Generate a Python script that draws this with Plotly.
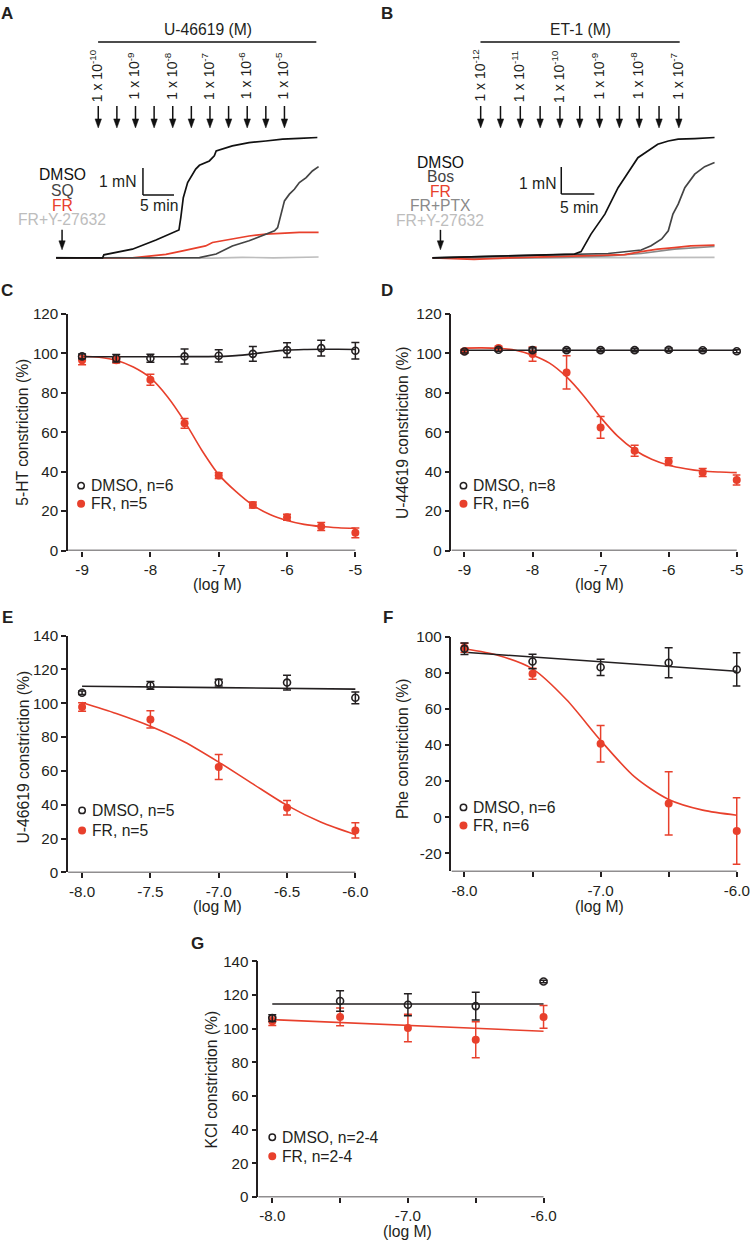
import plotly.graph_objects as go

W, H = 750, 1240
FONT = "Arial, Liberation Sans, sans-serif"
INK = "#231f20"
RED = "#e8402c"
DARK = "#444444"
MID = "#8a8a8a"
LIGHT = "#bdbdbd"

# ---------------- Panel A : U-46619 traces (time in min, force in mN) ----------------
a_dose_t = [6.8, 9.8, 12.8, 15.8, 18.8, 21.8, 24.8, 27.8, 30.8, 33.8, 36.8]
a_dose_exp = ["-10", "-9", "-8", "-7", "-6", "-5"]
a_dmso_t = [0, 7.5, 7.7, 12.3, 16.1, 18.8, 19.8, 20.1, 20.5, 21.2, 22.5, 23.1, 24.7, 25.5, 25.8, 28.4, 31.1, 33.8, 36.5, 39.2, 42.1]
a_dmso_f = [0, 0, 0.11, 0.32, 0.66, 0.94, 1.03, 1.49, 2.23, 2.79, 3.29, 3.43, 3.59, 3.78, 3.96, 4.15, 4.27, 4.33, 4.40, 4.43, 4.46]
a_sq_t = [0, 23.1, 25.8, 28.4, 31.1, 33.8, 35.2, 35.7, 36.2, 36.8, 37.6, 38.4, 39.2, 40.3, 41.3, 42.3]
a_sq_f = [0, 0.01, 0.14, 0.44, 0.63, 0.88, 1.0, 1.12, 1.62, 2.11, 2.36, 2.54, 2.79, 2.97, 3.22, 3.38]
a_fr_t = [0, 12.3, 15.0, 17.7, 20.4, 23.1, 24.1, 25.2, 28.4, 31.1, 33.8, 36.5, 39.2, 42.3]
a_fr_f = [0, 0, 0.06, 0.13, 0.26, 0.38, 0.44, 0.57, 0.69, 0.81, 0.88, 0.91, 0.94, 0.94]
a_fry_t = [0, 5, 10, 15, 20, 25, 30, 35, 42.3]
a_fry_f = [0.02, -0.01, 0.01, -0.02, 0.0, -0.01, 0.02, 0.0, 0.03]

# ---------------- Panel B : ET-1 traces ----------------
b_dose_t = [7.3, 10.3, 13.3, 16.3, 19.3, 22.3, 25.3, 28.3, 31.3, 34.3, 37.3]
b_dose_exp = ["-12", "-11", "-10", "-9", "-8", "-7"]
b_dmso_t = [0, 21.5, 22.5, 24.0, 26.1, 27.1, 28.1, 29.1, 30.1, 31.1, 32.6, 34.1, 35.7, 37.2, 39.7, 42.7]
b_dmso_f = [0, 0.14, 0.23, 0.88, 1.62, 2.11, 2.60, 2.97, 3.34, 3.71, 3.96, 4.21, 4.33, 4.40, 4.42, 4.46]
b_bos_t = [0, 26.6, 31.6, 33.1, 34.7, 35.7, 36.4, 37.2, 38.2, 39.7, 41.2, 42.7]
b_bos_f = [0, 0.16, 0.29, 0.45, 0.70, 1.0, 1.62, 1.99, 2.6, 3.1, 3.38, 3.53]
b_fr_t = [0, 6.3, 11.4, 16.5, 21.5, 26.6, 29.1, 31.6, 34.1, 36.6, 39.1, 42.7]
b_fr_f = [0, -0.06, 0, 0.03, 0.06, 0.10, 0.12, 0.23, 0.32, 0.38, 0.44, 0.47]
b_ptx_t = [0, 10, 20, 26.6, 31.6, 36.6, 42.7]
b_ptx_f = [0, -0.02, 0.02, 0.07, 0.16, 0.32, 0.42]
b_fry_t = [0, 10, 20, 30, 42.7]
b_fry_f = [0, 0.0, -0.01, 0.01, 0.02]

# ---------------- Panel C : 5-HT ----------------
c_x = [-9, -8.5, -8, -7.5, -7, -6.5, -6, -5.5, -5]
c_dmso = [98.4, 97.5, 97.5, 98.4, 98.7, 99.7, 101.6, 102.6, 101.3]
c_dmso_err = [1.2, 1.9, 2.0, 3.8, 3.1, 3.7, 3.7, 4.0, 4.2]
c_fr = [96.5, 96.5, 86.6, 64.5, 38.0, 23.1, 16.9, 12.2, 9.0]
c_fr_err = [2.3, 1.5, 2.8, 2.5, 1.5, 1.5, 1.5, 2.0, 2.5]
c_fit_x = [-9, -8.75, -8.5, -8.25, -8, -7.75, -7.5, -7.25, -7, -6.75, -6.5, -6.25, -6, -5.75, -5.5, -5.25, -5]
c_dmso_fit = [98.2, 98.2, 98.2, 98.2, 98.2, 98.2, 98.3, 98.3, 98.4, 98.8, 99.7, 100.8, 101.6, 101.9, 102.0, 102.0, 101.9]
c_fr_fit = [98.5, 98.0, 96.5, 93.0, 87.5, 78.0, 65.5, 51.0, 38.5, 30.0, 23.0, 18.3, 15.3, 13.3, 12.2, 11.6, 11.3]

# ---------------- Panel D : U-44619 ----------------
d_x = [-9, -8.5, -8, -7.5, -7, -6.5, -6, -5.5, -5]
d_dmso = [100.9, 101.8, 101.6, 101.6, 101.6, 101.6, 101.8, 101.5, 101.0]
d_dmso_err = [0.8, 0.8, 1.0, 0.8, 0.8, 0.8, 0.8, 0.8, 0.8]
d_fr = [101.0, 102.6, 99.6, 90.3, 62.4, 50.6, 45.1, 39.6, 35.8]
d_fr_err = [1.0, 1.0, 3.6, 8.4, 5.5, 2.8, 2.0, 2.0, 2.5]
d_fit_x = [-9, -8.75, -8.5, -8.25, -8, -7.75, -7.5, -7.25, -7, -6.75, -6.5, -6.25, -6, -5.75, -5.5, -5.25, -5]
d_fr_fit = [102.6, 102.7, 102.5, 101.5, 99.0, 95.0, 88.0, 78.5, 67.5, 58.0, 51.0, 46.3, 43.3, 41.5, 40.3, 39.8, 39.5]
d_dmso_fit_x = [-9, -5]
d_dmso_fit = [101.5, 101.5]

# ---------------- Panel E : U-46619 ----------------
e_x = [-8, -7.5, -7, -6.5, -6]
e_dmso = [106.2, 110.5, 112.2, 112.2, 103.2]
e_dmso_err = [1.0, 2.3, 2.0, 4.4, 3.5]
e_fr = [97.8, 90.4, 62.3, 38.2, 24.8]
e_fr_err = [2.5, 5.1, 7.4, 4.3, 4.5]
e_fit_x = [-8, -7.75, -7.5, -7.25, -7, -6.75, -6.5, -6.25, -6]
e_fr_fit = [100.4, 93.9, 86.4, 77.1, 65.2, 52.3, 39.6, 29.6, 22.3]
e_dmso_fit_x = [-8, -7, -6]
e_dmso_fit = [110.0, 109.2, 108.3]

# ---------------- Panel F : Phe ----------------
f_x = [-8, -7.5, -7, -6.5, -6]
f_dmso = [93.2, 86.2, 83.0, 85.5, 81.8]
f_dmso_err = [3.2, 4.0, 4.5, 8.3, 9.2]
f_fr = [93.8, 79.4, 40.7, 7.6, -7.7]
f_fr_err = [2.5, 3.0, 10.1, 17.5, 18.4]
f_fit_x = [-8, -7.75, -7.5, -7.25, -7, -6.75, -6.5, -6.25, -6]
f_fr_fit = [93.2, 89.5, 82.1, 65.0, 42.5, 22.3, 9.8, 3.9, 1.1]
f_dmso_fit_x = [-8, -6]
f_dmso_fit = [91.3, 80.8]

# ---------------- Panel G : KCl ----------------
g_x = [-8, -7.5, -7, -6.5, -6]
g_dmso = [106.3, 116.4, 114.2, 113.4, 128.0]
g_dmso_err = [2.0, 6.1, 6.5, 8.2, 0.8]
g_fr = [104.4, 107.0, 100.4, 93.4, 107.0]
g_fr_err = [2.5, 5.3, 8.2, 10.7, 6.7]
g_fit_x = [-8, -6]
g_dmso_fit = [114.7, 114.7]
g_fr_fit = [105.4, 98.5]

# scale bars (min, mN)
a_bar = dict(t=14.0, f=2.33, dt=5, df=1)
b_bar = dict(t=19.5, f=2.37, dt=5, df=1)

# ---- page placement (target pixel -> figure pixel) ----
S, OX, OY = 0.987, 1.0, 8.0


def dX(x):
    return (x - OX) / S


def dY(y):
    return (y - OY) / S


def PX(x):
    return min(1.0, max(0.0, dX(x) / W))


def PY(y):
    return min(1.0, max(0.0, 1 - dY(y) / H))


TXT = 15.7
TICK = 15.2
fig = go.Figure()
annotations = []
shapes = []


def arrow_shapes(x, y_top, y_tip, xref, half):
    head = 9
    shapes.append(dict(type="line", xref=xref, yref="paper", x0=x, x1=x, y0=PY(y_top), y1=PY(y_tip - head + 1),
                       line=dict(color="#111111", width=1.5)))
    shapes.append(dict(type="path", xref=xref, yref="paper",
                       path="M %f,%f L %f,%f L %f,%f Z" % (x - half, PY(y_tip - head), x + half, PY(y_tip - head),
                                                           x, PY(y_tip)),
                       fillcolor="#111111", line=dict(color="#111111", width=0.5)))


# ---------- dose-response panels ----------
# xpx: (axis-left px, px of first tick, px of last tick); ypx: (px of y-range bottom, px of y-range top)
panels = [
    dict(ax="", xpx=(69, 83, 356), xt=(-9, -5), ypx=(550, 313), yr=[0, 120],
         tv=[-9, -8, -7, -6, -5], tt=["-9", "-8", "-7", "-6", "-5"], ytv=[0, 20, 40, 60, 80, 100, 120],
         data=(c_x, c_dmso, c_dmso_err, c_fr, c_fr_err),
         fits=[(c_fit_x, c_fr_fit, RED), (c_fit_x, c_dmso_fit, INK)],
         ytitle="5-HT constriction (%)", ytc=(24, 432), xtc=(218, 584),
         leg=(82, 485, 503, "DMSO, n=6", "FR, n=5"), letter=("C", 8, 290)),
    dict(ax="2", xpx=(452, 465, 737), xt=(-9, -5), ypx=(550, 313), yr=[0, 120],
         tv=[-9, -8, -7, -6, -5], tt=["-9", "-8", "-7", "-6", "-5"], ytv=[0, 20, 40, 60, 80, 100, 120],
         data=(d_x, d_dmso, d_dmso_err, d_fr, d_fr_err),
         fits=[(d_fit_x, d_fr_fit, RED), (d_dmso_fit_x, d_dmso_fit, INK)],
         ytitle="U-44619 constriction (%)", ytc=(403, 432), xtc=(600, 584),
         leg=(464, 485, 503, "DMSO, n=8", "FR, n=6"), letter=("D", 388, 290)),
    dict(ax="3", xpx=(69, 83, 356), xt=(-8, -6), ypx=(872, 635), yr=[0, 140],
         tv=[-8, -7.5, -7, -6.5, -6], tt=["-8.0", "-7.5", "-7.0", "-6.5", "-6.0"],
         ytv=[0, 20, 40, 60, 80, 100, 120, 140],
         data=(e_x, e_dmso, e_dmso_err, e_fr, e_fr_err),
         fits=[(e_fit_x, e_fr_fit, RED), (e_dmso_fit_x, e_dmso_fit, INK)],
         ytitle="U-46619 constriction (%)", ytc=(24, 757), xtc=(218, 906),
         leg=(83, 810, 830, "DMSO, n=5", "FR, n=5"), letter=("E", 8, 617)),
    dict(ax="4", xpx=(452, 465, 737), xt=(-8, -6), ypx=(871, 636), yr=[-30, 100],
         tv=[-8, -7.5, -7, -6.5, -6], tt=["-8.0", "", "-7.0", "", "-6.0"],
         ytv=[-20, 0, 20, 40, 60, 80, 100],
         data=(f_x, f_dmso, f_dmso_err, f_fr, f_fr_err),
         fits=[(f_fit_x, f_fr_fit, RED), (f_dmso_fit_x, f_dmso_fit, INK)],
         ytitle="Phe constriction (%)", ytc=(403, 748), xtc=(600, 906),
         leg=(464, 807, 825, "DMSO, n=6", "FR, n=6"), letter=("F", 389, 617)),
    dict(ax="5", xpx=(259, 273, 544), xt=(-8, -6), ypx=(1197, 961), yr=[0, 140],
         tv=[-8, -7.5, -7, -6.5, -6], tt=["-8.0", "", "-7.0", "", "-6.0"],
         ytv=[0, 20, 40, 60, 80, 100, 120, 140],
         data=(g_x, g_dmso, g_dmso_err, g_fr, g_fr_err),
         fits=[(g_fit_x, g_fr_fit, RED), (g_fit_x, g_dmso_fit, INK)],
         ytitle="KCl constriction (%)", ytc=(212, 1079), xtc=(408, 1231),
         leg=(273, 1137, 1156, "DMSO, n=2-4", "FR, n=2-4"), letter=("G", 198, 943)),
]

layout_axes = {}
for p in panels:
    a = p["ax"]
    xref = "x" + a
    yref = "y" + a
    left, p0, p1 = (dX(v) for v in p["xpx"])
    right = min(W - 0.5, p1 + 5)
    k = (p1 - p0) / (p["xt"][1] - p["xt"][0])
    xr = [p["xt"][0] - (p0 - left) / k, p["xt"][1] + (right - p1) / k]
    x, dm, dme, fr, fre = p["data"]
    for fx, fy, col in p["fits"]:
        fig.add_trace(go.Scatter(x=fx, y=fy, mode="lines", line=dict(color=col, width=1.6, shape="spline", smoothing=0.8),
                                 xaxis=xref, yaxis=yref, showlegend=False, cliponaxis=False, hoverinfo="skip"))
    fig.add_trace(go.Scatter(x=x, y=fr, mode="markers", marker=dict(color=RED, size=8, symbol="circle"),
                             error_y=dict(type="data", array=fre, color=RED, thickness=1.5, width=4),
                             xaxis=xref, yaxis=yref, showlegend=False, cliponaxis=False))
    fig.add_trace(go.Scatter(x=x, y=dm, mode="markers",
                             marker=dict(color=INK, size=7, symbol="circle-open", line=dict(width=1.6, color=INK)),
                             error_y=dict(type="data", array=dme, color=INK, thickness=1.5, width=4),
                             xaxis=xref, yaxis=yref, showlegend=False, cliponaxis=False))
    axcommon = dict(linecolor=INK, linewidth=1.5, ticks="outside", ticklen=5, tickwidth=1.5,
                    tickcolor=INK, showgrid=False, zeroline=False,
                    tickfont=dict(family=FONT, size=TICK, color=INK))
    layout_axes["xaxis" + a] = dict(axcommon, showline=False, domain=[left / W, right / W],
                                    range=xr, anchor=yref, tickmode="array", tickvals=p["tv"],
                                    ticktext=p["tt"], ticklabeloverflow="allow")
    layout_axes["yaxis" + a] = dict(axcommon, showline=True, domain=[PY(p["ypx"][0]), PY(p["ypx"][1])],
                                    range=p["yr"], anchor=xref, tickmode="array", tickvals=p["ytv"],
                                    ticktext=[str(v) for v in p["ytv"]])
    shapes.append(dict(type="line", xref=xref, yref=yref, x0=xr[0], x1=p["xt"][1], y0=p["yr"][0],
                       y1=p["yr"][0], line=dict(color=INK, width=1.5)))
    annotations.append(dict(text=p["ytitle"], x=PX(p["ytc"][0]), y=PY(p["ytc"][1]), xref="paper", yref="paper",
                            textangle=-90, showarrow=False, xanchor="center", yanchor="middle",
                            font=dict(family=FONT, size=TXT, color=INK)))
    annotations.append(dict(text="(log M)", x=PX(p["xtc"][0]), y=PY(p["xtc"][1]), xref="paper", yref="paper",
                            showarrow=False, xanchor="center", yanchor="middle",
                            font=dict(family=FONT, size=TXT, color=INK)))
    lx, ly1, ly2, t1, t2 = p["leg"]
    shapes.append(dict(type="circle", xref="paper", yref="paper", x0=PX(lx - 3.2), x1=PX(lx + 3.2),
                       y0=PY(ly1 + 3.2), y1=PY(ly1 - 3.2), line=dict(color=INK, width=1.5)))
    shapes.append(dict(type="circle", xref="paper", yref="paper", x0=PX(lx - 4), x1=PX(lx + 4),
                       y0=PY(ly2 + 4), y1=PY(ly2 - 4), line=dict(color=RED, width=0), fillcolor=RED))
    for t, yy in ((t1, ly1), (t2, ly2)):
        annotations.append(dict(text=t, x=PX(lx + 8), y=PY(yy), xref="paper", yref="paper", showarrow=False,
                                xanchor="left", yanchor="middle", font=dict(family=FONT, size=TXT, color=INK)))
    L, lxp, lyp = p["letter"]
    annotations.append(dict(text="<b>%s</b>" % L, x=PX(lxp), y=PY(lyp), xref="paper", yref="paper",
                            showarrow=False, xanchor="center", yanchor="middle",
                            font=dict(family=FONT, size=17, color=INK)))

# ---------- trace panels A & B ----------
# t0px: pixel of t=0, ppm: pixels per minute; baseline 257 px, 27 px per mN
trace_panels = [
    dict(ax="6", xpx=(40, 330), t0px=57, ppm=6.2, doses=a_dose_t, exps=a_dose_exp,
         traces=[(a_fry_t, a_fry_f, LIGHT), (a_fr_t, a_fr_f, RED), (a_sq_t, a_sq_f, DARK), (a_dmso_t, a_dmso_f, "#111111")],
         bar=a_bar, title="U-46619 (M)", title_x=209, line=(99, 317),
         legend=[("DMSO", "#111111", 174), ("SQ", DARK, 190), ("FR", RED, 205), ("FR+Y-27632", LIGHT, 219)],
         legx=63, mn=(118, 181), mins=(160, 205), letter=("A", 8, 13)),
    dict(ax="7", xpx=(420, 720), t0px=433, ppm=6.6, doses=b_dose_t, exps=b_dose_exp,
         traces=[(b_fry_t, b_fry_f, LIGHT), (b_ptx_t, b_ptx_f, MID), (b_fr_t, b_fr_f, RED), (b_bos_t, b_bos_f, DARK),
                 (b_dmso_t, b_dmso_f, "#111111")],
         bar=b_bar, title="ET-1 (M)", title_x=581, line=(481, 680),
         legend=[("DMSO", "#111111", 162), ("Bos", DARK, 176), ("FR", RED, 191), ("FR+PTX", MID, 205),
                 ("FR+Y-27632", LIGHT, 220)],
         legx=441, mn=(538, 183), mins=(579, 207), letter=("B", 388, 13)),
]

for p in trace_panels:
    a = p["ax"]
    xref = "x" + a
    yref = "y" + a
    for tt, ff, col in p["traces"]:
        fig.add_trace(go.Scatter(x=tt, y=ff, mode="lines", line=dict(color=col, width=1.7),
                                 xaxis=xref, yaxis=yref, showlegend=False, hoverinfo="skip"))
    xr = [(p["xpx"][0] - p["t0px"]) / p["ppm"], (p["xpx"][1] - p["t0px"]) / p["ppm"]]
    yr = [(257 - 265) / 27, (257 - 20) / 27]
    layout_axes["xaxis" + a] = dict(domain=[PX(p["xpx"][0]), PX(p["xpx"][1])], range=xr, visible=False,
                                    anchor=yref)
    layout_axes["yaxis" + a] = dict(domain=[PY(265), PY(20)], range=yr, visible=False, anchor=xref)
    for i, t in enumerate(p["doses"]):
        arrow_shapes(t, 105, 127, xref, 3.2 / p["ppm"])
        if i % 2 == 0:
            annotations.append(dict(text="1 x 10<sup>%s</sup>" % p["exps"][i // 2], x=t, y=PY(75), xref=xref,
                                    yref="paper", textangle=-90, showarrow=False, xanchor="center",
                                    yanchor="middle", xshift=-2, font=dict(family=FONT, size=14, color=INK)))
    shapes.append(dict(type="line", xref="paper", yref="paper", x0=PX(p["line"][0]), x1=PX(p["line"][1]),
                       y0=PY(41), y1=PY(41), line=dict(color="#111111", width=1.5)))
    annotations.append(dict(text=p["title"], x=PX(p["title_x"]), y=PY(29), xref="paper", yref="paper",
                            showarrow=False, xanchor="center", yanchor="middle",
                            font=dict(family=FONT, size=TXT, color=INK)))
    bar = p["bar"]
    shapes.append(dict(type="line", xref=xref, yref=yref, x0=bar["t"], x1=bar["t"], y0=bar["f"],
                       y1=bar["f"] + bar["df"], line=dict(color="#111111", width=1.5)))
    shapes.append(dict(type="line", xref=xref, yref=yref, x0=bar["t"], x1=bar["t"] + bar["dt"], y0=bar["f"],
                       y1=bar["f"], line=dict(color="#111111", width=1.5)))
    annotations.append(dict(text="1 mN", x=PX(p["mn"][0]), y=PY(p["mn"][1]), xref="paper", yref="paper",
                            showarrow=False, xanchor="center", yanchor="middle",
                            font=dict(family=FONT, size=TXT, color=INK)))
    annotations.append(dict(text="5 min", x=PX(p["mins"][0]), y=PY(p["mins"][1]), xref="paper", yref="paper",
                            showarrow=False, xanchor="center", yanchor="middle",
                            font=dict(family=FONT, size=TXT, color=INK)))
    for txt, col, yy in p["legend"]:
        annotations.append(dict(text=txt, x=PX(p["legx"]), y=PY(yy), xref="paper", yref="paper",
                                showarrow=False, xanchor="center", yanchor="middle",
                                font=dict(family=FONT, size=TXT, color=col)))
    arrow_shapes(PX(p["legx"]), 229, 249, "paper", 3.2 / W)
    L, lxp, lyp = p["letter"]
    annotations.append(dict(text="<b>%s</b>" % L, x=PX(lxp), y=PY(lyp), xref="paper", yref="paper",
                            showarrow=False, xanchor="center", yanchor="middle",
                            font=dict(family=FONT, size=17, color=INK)))

fig.update_layout(width=W, height=H, margin=dict(l=0, r=0, t=0, b=0), paper_bgcolor="white",
                  plot_bgcolor="white", showlegend=False, annotations=annotations, shapes=shapes,
                  font=dict(family=FONT, color=INK), **layout_axes)

fig.write_html("out.html", config={"displayModeBar": False},
               post_script="document.documentElement.style.margin='0px';document.body.style.margin='0px';"
                           "document.body.style.padding='0px';document.documentElement.style.overflow='hidden';"
                           "document.body.style.overflow='hidden';"
                           "document.querySelectorAll('svg.main-svg').forEach(function(s){s.style.overflow='visible';});")
